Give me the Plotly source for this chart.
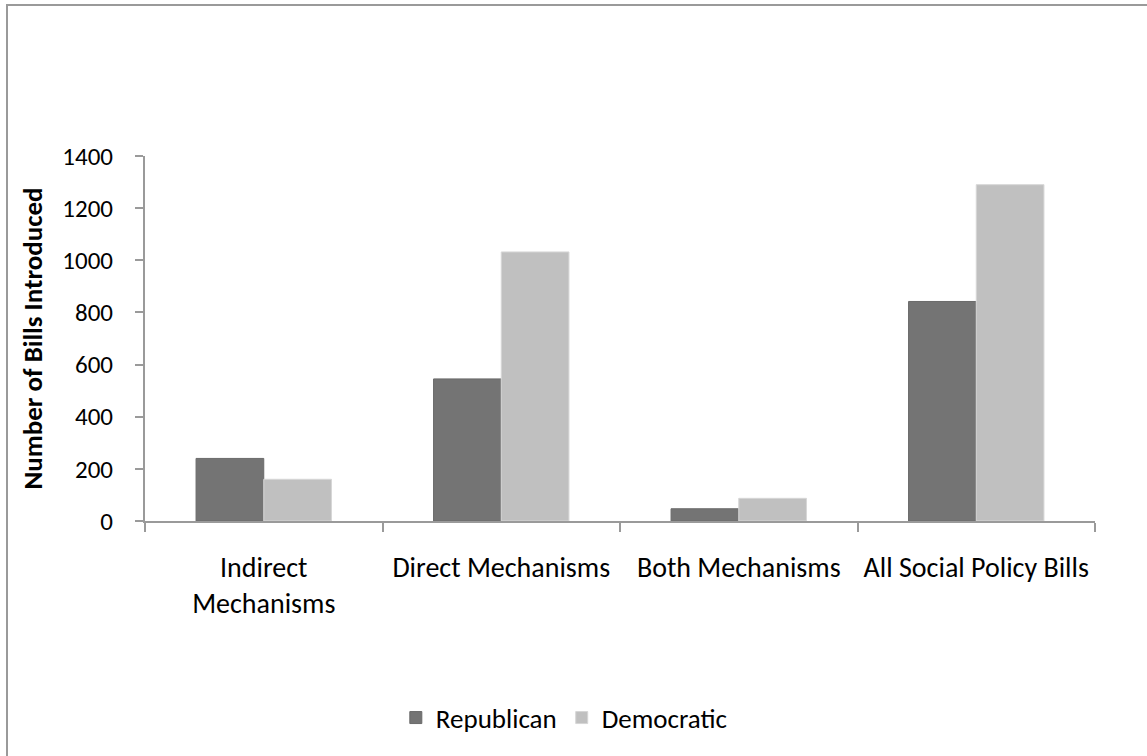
import plotly.graph_objects as go

# Bill counts by mechanism type and party
categories = ["Indirect<br>Mechanisms", "Direct Mechanisms", "Both Mechanisms", "All Social Policy Bills"]
republican = [240, 545, 47, 842]
democratic = [160, 1032, 87, 1290]
y_ticks = [0, 200, 400, 600, 800, 1000, 1200, 1400]

W, H = 1147, 756
L, R, T, B = 145, 52, 156, 235
FONT = "Calibri, Carlito, Lato, sans-serif"
AXIS_GREY = "#9a9a9a"

fig = go.Figure()
fig.add_trace(go.Bar(
    name="Republican", x=categories, y=republican,
    marker=dict(color="#747474", line=dict(color="#6a6a6a", width=1)),
))
fig.add_trace(go.Bar(
    name="Democratic", x=categories, y=democratic,
    marker=dict(color="#c0c0c0", line=dict(color="#d6d6d6", width=1)),
))

# outer chart-area frame (runs off the right and bottom edges), pixel -> paper coordinates
pw, ph = W - L - R, H - T - B
def px_x(x):
    return (x - L) / pw
def px_y(y):
    return (H - B - y) / ph
fig.add_shape(type="rect", xref="paper", yref="paper",
              x0=px_x(7), x1=px_x(1170), y0=px_y(780), y1=px_y(5),
              line=dict(color="#9a9a9a", width=2), fillcolor="rgba(0,0,0,0)", layer="below")

fig.update_layout(
    width=W, height=H,
    margin=dict(l=L, r=R, t=T, b=B, autoexpand=False),
    paper_bgcolor="white", plot_bgcolor="white",
    font=dict(family=FONT, size=27, color="#000000"),
    barmode="group", bargap=0.43, bargroupgap=0,
    showlegend=True,
    legend=dict(orientation="h", xref="container", yref="container",
                x=0.492, xanchor="center", y=1 - 718 / H, yanchor="middle",
                font=dict(size=27), itemwidth=30, traceorder="normal"),
    xaxis=dict(
        type="category", showline=True, linecolor=AXIS_GREY, linewidth=2,
        ticks="outside", tickson="boundaries", ticklen=9, tickwidth=2, tickcolor=AXIS_GREY,
        showgrid=False, zeroline=False, ticklabelstandoff=20,
        tickfont=dict(size=28),
    ),
    yaxis=dict(
        range=[0, 1400], tickvals=y_ticks, showline=True, linecolor=AXIS_GREY, linewidth=2,
        ticks="outside", ticklen=8, tickwidth=2, tickcolor=AXIS_GREY,
        showgrid=False, zeroline=False, ticklabelstandoff=17,
        tickfont=dict(size=25),
        title=dict(text="<b>Number of Bills Introduced</b>", font=dict(size=27), standoff=12),
    ),
)

fig.write_html("out.html")
